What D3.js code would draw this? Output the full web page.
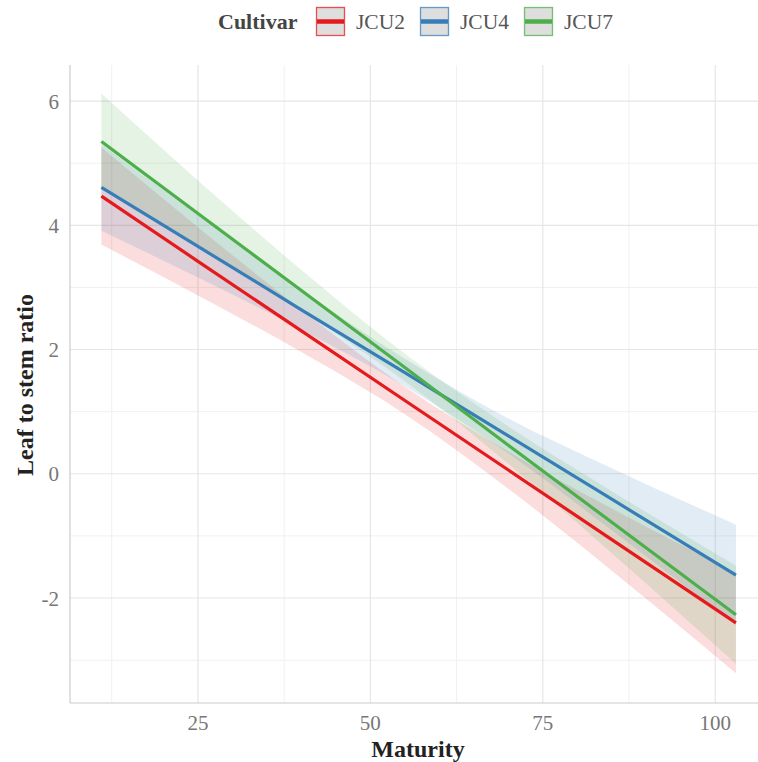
<!DOCTYPE html>
<html>
<head>
<meta charset="utf-8">
<script src="https://cdn.jsdelivr.net/npm/d3@7"></script>
<style>
  body { margin: 0; background: #fff; }
  text { font-family: "Liberation Serif", "DejaVu Serif", serif; }
</style>
</head>
<body>
<div id="chart"></div>
<script>
var width = 758;
var height = 762;

// data
var cultivars = ["JCU2", "JCU4", "JCU7"];
var colors = ["#E41A1C", "#377EB8", "#4DAF4A"];
var maturity = [11, 25, 40, 55, 70, 85, 103];

var fitJCU2 = [4.47, 3.42, 2.30, 1.18, 0.06, -1.06, -2.40];
var lowJCU2 = [3.69, 2.87, 1.96, 0.96, -0.24, -1.56, -3.21];
var highJCU2 = [5.25, 3.97, 2.64, 1.40, 0.36, -0.56, -1.59];

var fitJCU4 = [4.61, 3.66, 2.64, 1.63, 0.61, -0.41, -1.63];
var lowJCU4 = [3.91, 3.16, 2.32, 1.41, 0.33, -0.91, -2.44];
var highJCU4 = [5.31, 4.16, 2.96, 1.85, 0.89, 0.09, -0.82];

var fitJCU7 = [5.35, 4.19, 2.95, 1.71, 0.46, -0.78, -2.27];
var lowJCU7 = [4.58, 3.66, 2.62, 1.49, 0.16, -1.28, -3.06];
var highJCU7 = [6.12, 4.72, 3.28, 1.93, 0.76, -0.28, -1.48];

var xTicks = [25, 50, 75, 100];
var xMinor = [12.5, 37.5, 62.5, 87.5];
var yTicks = [-2, 0, 2, 4, 6];
var yMinor = [-3, -1, 1, 3, 5];

var fits = [fitJCU2, fitJCU4, fitJCU7];
var lows = [lowJCU2, lowJCU4, lowJCU7];
var highs = [highJCU2, highJCU4, highJCU7];

var series = cultivars.map(function(c, i){
  return {
    name: c,
    color: colors[i],
    values: maturity.map(function(m, j){
      return {x: m, fit: fits[i][j], lo: lows[i][j], hi: highs[i][j]};
    })
  };
});

var margin = {top: 65, right: 0, bottom: 59, left: 70};

var svg = d3.select("#chart")
      .append("svg")
      .attr("width", width)
      .attr("height", height);

var x = d3.scaleLinear().domain([6.45, 106.2]).range([margin.left, width - margin.right]);
var y = d3.scaleLinear().domain([-3.69, 6.58]).range([height - margin.bottom, margin.top]);

var grid = svg.append("g");

grid.selectAll(".xminor").data(xMinor).enter().append("line")
  .attr("x1", function(d){ return x(d); }).attr("x2", function(d){ return x(d); })
  .attr("y1", y.range()[0]).attr("y2", y.range()[1])
  .attr("stroke", "#f0f0f0").attr("stroke-width", 1);
grid.selectAll(".yminor").data(yMinor).enter().append("line")
  .attr("y1", function(d){ return y(d); }).attr("y2", function(d){ return y(d); })
  .attr("x1", x.range()[0]).attr("x2", x.range()[1])
  .attr("stroke", "#f0f0f0").attr("stroke-width", 1);
grid.selectAll(".xmajor").data(xTicks).enter().append("line")
  .attr("x1", function(d){ return x(d); }).attr("x2", function(d){ return x(d); })
  .attr("y1", y.range()[0]).attr("y2", y.range()[1])
  .attr("stroke", "#e6e6e6").attr("stroke-width", 1.2);
grid.selectAll(".ymajor").data(yTicks).enter().append("line")
  .attr("y1", function(d){ return y(d); }).attr("y2", function(d){ return y(d); })
  .attr("x1", x.range()[0]).attr("x2", x.range()[1])
  .attr("stroke", "#e6e6e6").attr("stroke-width", 1.2);

// axis lines
svg.append("line")
  .attr("x1", x.range()[0]).attr("x2", x.range()[0])
  .attr("y1", y.range()[0]).attr("y2", y.range()[1])
  .attr("stroke", "#cccccc").attr("stroke-width", 1.2);
svg.append("line")
  .attr("x1", x.range()[0]).attr("x2", x.range()[1])
  .attr("y1", y.range()[0]).attr("y2", y.range()[0])
  .attr("stroke", "#cccccc").attr("stroke-width", 1.2);

var area = d3.area()
  .x(function(d){ return x(d.x); })
  .y0(function(d){ return y(d.lo); })
  .y1(function(d){ return y(d.hi); })
  .curve(d3.curveMonotoneX);

var line = d3.line()
  .x(function(d){ return x(d.x); })
  .y(function(d){ return y(d.fit); });

svg.append("g").selectAll("path")
  .data(series).enter().append("path")
  .attr("d", function(d){ return area(d.values); })
  .attr("fill", function(d){ return d.color; })
  .attr("fill-opacity", 0.15);

svg.append("g").selectAll("path")
  .data(series).enter().append("path")
  .attr("d", function(d){ return line(d.values); })
  .attr("fill", "none")
  .attr("stroke", function(d){ return d.color; })
  .attr("stroke-width", 3.2);

// tick labels
svg.append("g").selectAll("text")
  .data(xTicks).enter().append("text")
  .attr("x", function(d){ return x(d); })
  .attr("y", 730)
  .attr("text-anchor", "middle")
  .attr("font-size", 21)
  .attr("fill", "#777")
  .text(function(d){ return d; });

svg.append("g").selectAll("text")
  .data(yTicks).enter().append("text")
  .attr("x", 59)
  .attr("y", function(d){ return y(d) + 7.5; })
  .attr("text-anchor", "end")
  .attr("font-size", 21)
  .attr("fill", "#777")
  .text(function(d){ return d; });

svg.append("text")
  .attr("x", 418)
  .attr("y", 757)
  .attr("text-anchor", "middle")
  .attr("font-size", 24)
  .attr("font-weight", "bold")
  .attr("fill", "#222")
  .text("Maturity");

svg.append("text")
  .attr("transform", "translate(33," + ((y.range()[0] + y.range()[1]) / 2 + 1) + ") rotate(-90)")
  .attr("text-anchor", "middle")
  .attr("font-size", 24)
  .attr("font-weight", "bold")
  .attr("fill", "#222")
  .text("Leaf to stem ratio");

// legend
var legend = svg.append("g");
legend.append("text")
  .attr("x", 218).attr("y", 29)
  .attr("font-size", 22)
  .attr("font-weight", "bold")
  .attr("fill", "#444")
  .text("Cultivar");

var keyX = [316, 420, 524];
var item = legend.selectAll(".item").data(series).enter().append("g")
  .attr("transform", function(d, i){ return "translate(" + keyX[i] + ",7)"; });
item.append("rect")
  .attr("x", 0.5).attr("y", 0.5).attr("width", 28).attr("height", 28)
  .attr("fill", "#dedede")
  .attr("stroke", function(d){ return d.color; })
  .attr("stroke-opacity", 0.75)
  .attr("stroke-width", 1.3);
item.append("line")
  .attr("x1", 1).attr("x2", 28).attr("y1", 14.5).attr("y2", 14.5)
  .attr("stroke", function(d){ return d.color; })
  .attr("stroke-width", 4.5);
item.append("text")
  .attr("x", 40).attr("y", 22)
  .attr("font-size", 21.5)
  .attr("fill", "#555")
  .text(function(d){ return d.name; });
</script>
</body>
</html>
